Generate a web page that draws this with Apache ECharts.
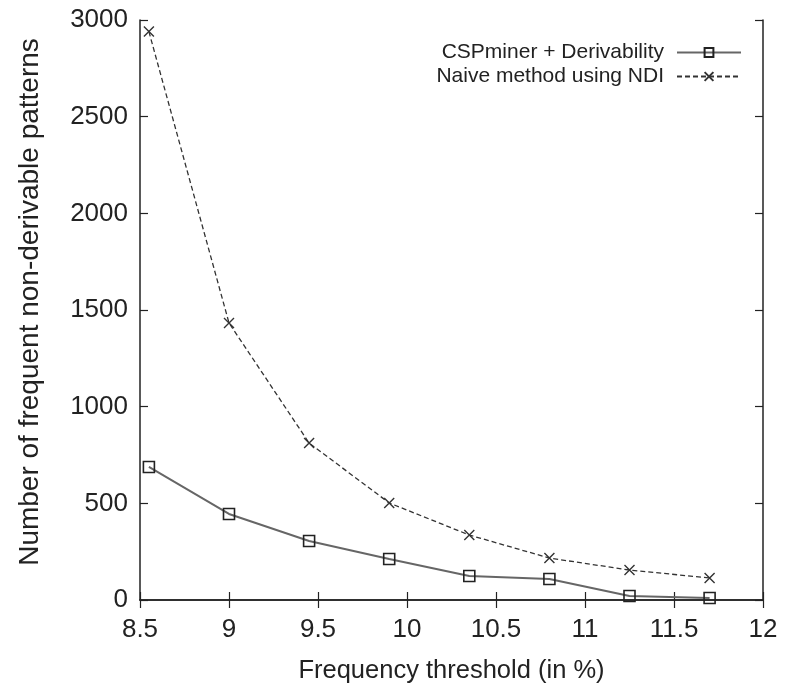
<!DOCTYPE html>
<html>
<head>
<meta charset="utf-8">
<script src="https://cdn.jsdelivr.net/npm/echarts@6/dist/echarts.min.js"></script>
<style>
html,body{margin:0;padding:0;background:#fff;}
#chart{width:794px;height:694px;}
</style>
</head>
<body>
<div id="chart"></div>
<script>
var thresholds = [8.55, 9.0, 9.45, 9.9, 10.35, 10.8, 11.25, 11.7];
var cspMiner = [688, 445, 305, 212, 124, 109, 21, 10];
var naiveNDI = [2940, 1433, 812, 502, 336, 217, 155, 114];
var seriesNames = ['CSPminer + Derivability', 'Naive method using NDI'];
var xTitle = 'Frequency threshold (in %)';
var yTitle = 'Number of frequent non-derivable patterns';

function pairs(xs, ys){ return xs.map(function(x,i){ return [x, ys[i]]; }); }

var FONT = '"Liberation Sans", Arial, Helvetica, sans-serif';
var chart = echarts.init(document.getElementById('chart'), null, {renderer:'canvas'});
var crossPath = 'path://M0,0L10,10M10,0L0,10';

var tickStyle = {show:true, inside:true, length:8, lineStyle:{color:'#222', width:1.2}};
var lineStyle = {show:true, lineStyle:{color:'#222', width:1.5}};

chart.setOption({
  backgroundColor:'#fff',
  animation:false,
  grid:{left:140, right:31, top:20, bottom:94},
  legend:{
    orient:'vertical', right:47, top:37, align:'right',
    itemWidth:64, itemHeight:11, itemGap:3,
    textStyle:{fontFamily:FONT, fontSize:21, color:'#222', padding:[0,8,0,0]},
    data:seriesNames
  },
  xAxis:[{
    type:'value', min:8.5, max:12, interval:0.5,
    axisLine:lineStyle, axisTick:tickStyle, splitLine:{show:false},
    axisLabel:{fontFamily:FONT, fontSize:26, color:'#222', margin:17},
    name:xTitle, nameLocation:'middle', nameGap:58,
    nameTextStyle:{fontFamily:FONT, fontSize:25.5, color:'#222'}
  },{
    type:'value', position:'top', min:8.5, max:12, interval:0.5,
    axisLine:lineStyle, axisTick:tickStyle, axisLabel:{show:false}, splitLine:{show:false}
  }],
  yAxis:[{
    type:'value', min:0, max:3000, interval:500,
    axisLine:lineStyle, axisTick:tickStyle, splitLine:{show:false},
    axisLabel:{fontFamily:FONT, fontSize:26, color:'#222', margin:12,
      formatter:function(v){ return String(v); }},
    name:yTitle, nameLocation:'middle', nameGap:96,
    nameTextStyle:{fontFamily:FONT, fontSize:28, color:'#222', padding:[0,0,0,16]}
  },{
    type:'value', position:'right', min:0, max:3000, interval:500,
    axisLine:lineStyle, axisTick:tickStyle, axisLabel:{show:false}, splitLine:{show:false}
  }],
  series:[{
    name:seriesNames[0], type:'line', data:pairs(thresholds, cspMiner),
    symbol:'rect', symbolSize:11, showAllSymbol:true,
    lineStyle:{color:'#666', width:2},
    itemStyle:{color:'rgba(255,255,255,0)', borderColor:'#222', borderWidth:1.6},
    z:3
  },{
    name:seriesNames[1], type:'line', data:pairs(thresholds, naiveNDI),
    symbol:crossPath, symbolSize:10, showAllSymbol:true,
    lineStyle:{color:'#333', width:1.3, type:[5,3]},
    itemStyle:{color:'rgba(0,0,0,0)', borderColor:'#333', borderWidth:1.4},
    z:3
  }]
});
</script>
</body>
</html>
